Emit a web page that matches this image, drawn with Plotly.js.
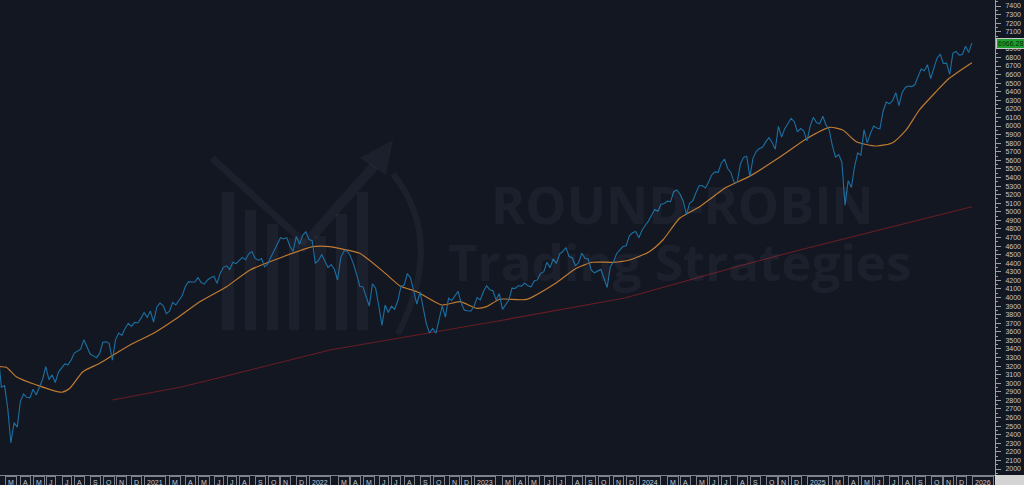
<!DOCTYPE html>
<html><head><meta charset="utf-8">
<script src="https://cdn.plot.ly/plotly-3.0.1.min.js"></script>
<style>html,body{margin:0;padding:0;background:#131722;overflow:hidden}#chart{width:1024px;height:485px}</style>
</head><body><div id="chart"></div>
<script>
// ---- data (weekly closes, first week starting 2020-02-10) ----
const firstWeek = '2020-02-10';
const closes = [
3380.16,3337.75,2954.22,2972.37,2711.02,2304.92,2541.47,2488.65,2789.82,2874.56,2836.74,2830.71,2929.80,2863.70,2955.45,3044.31,3193.93,3041.31,3097.74,3009.05,3130.01,3185.04,3224.73,3215.63,3271.12,3351.28,3372.85,3397.16,3508.01,3426.96,3340.97,3319.47,3298.46,3348.42,3477.13,3483.81,3465.39,3269.96,3509.44,3585.15,3557.54,3638.35,3699.12,3663.46,3709.41,3703.06,3756.07,
3824.68,3768.25,3841.47,3714.24,3886.83,3934.83,3906.71,3811.15,3841.94,3943.34,3913.10,3974.54,4019.87,4128.80,4185.47,4180.17,4181.17,4232.60,4173.85,4155.86,4204.11,4229.89,4247.44,4166.45,4280.70,4352.34,4369.55,4327.16,4411.79,4395.26,4436.52,4468.00,4441.67,4509.37,4535.43,4458.58,4432.99,4455.48,4357.04,4391.34,4471.37,4544.90,4605.38,4697.53,4682.85,4697.96,4594.62,4538.43,4712.02,4620.64,4725.79,4766.18,
4677.03,4662.85,4397.94,4431.85,4500.53,4418.64,4348.87,4384.65,4328.87,4204.31,4463.12,4543.06,4545.86,4488.28,4392.59,4271.78,4131.93,4123.34,4023.89,3901.36,4158.24,4108.54,3900.86,3674.84,3911.74,3825.33,3899.38,3863.16,3961.63,4130.29,4145.19,4280.15,4228.48,4057.66,3924.26,4067.36,3873.33,3693.23,3585.62,3639.66,3583.07,3752.75,3901.06,3770.55,3992.93,3965.34,4026.12,4071.70,3934.38,3852.36,3844.82,3839.50,
3895.08,3999.09,3972.61,4070.56,4136.48,4090.46,4079.09,3970.04,4045.64,3861.59,3916.64,3970.99,4109.31,4105.02,4137.64,4133.52,4169.48,4136.25,4124.08,4191.98,4205.45,4282.37,4298.86,4409.59,4348.33,4450.38,4398.95,4505.42,4536.34,4582.23,4478.03,4464.05,4369.71,4405.71,4515.77,4457.49,4450.32,4320.06,4288.05,4308.50,4327.78,4224.16,4117.37,4358.34,4415.24,4514.02,4559.34,4594.63,4604.37,4719.19,4754.63,4769.83,
4697.24,4783.83,4839.81,4890.97,4958.61,5026.61,5005.57,5088.80,5096.27,5123.69,5117.09,5234.18,5254.35,5204.34,5123.41,4967.23,5099.96,5127.79,5222.68,5303.27,5304.72,5277.51,5346.99,5431.60,5464.62,5460.48,5567.19,5615.35,5505.00,5459.10,5346.56,5344.16,5554.25,5634.61,5648.40,5408.42,5626.02,5702.55,5738.17,5751.07,5815.03,5864.67,5808.12,5728.80,5995.54,5870.62,5969.34,6032.38,6090.27,6051.09,5930.85,5970.84,5942.47,
5827.04,5996.66,6101.24,6040.53,6025.99,6114.63,6013.13,5954.50,5770.20,5638.94,5667.56,5580.94,5074.08,5363.36,5282.70,5525.21,5686.67,5659.91,5958.38,5802.82,5911.69,6000.36,5976.97,5967.84,6173.07,6279.35,6259.75,6296.79,6388.64,6238.01,6389.45,6449.80,6466.91,6460.26,6481.50,6584.29,6664.36,6643.70,6715.79,6552.51,6664.01,6791.69,6840.20,6728.80,6734.11,6602.99,6849.09,6870.40,6827.41,6834.50,6929.94,6858.47,
6966.28
];

// orange moving average
const maDates = ['2020-02-10','2020-02-21','2020-03-06','2020-03-28','2020-05-12','2020-07-06','2020-07-24','2020-08-22','2020-09-28','2020-10-28','2020-12-11','2021-01-25','2021-03-17','2021-05-07','2021-07-05','2021-08-26','2021-11-07','2022-01-12','2022-02-18','2022-03-20','2022-04-25','2022-06-16','2022-07-23','2022-08-29','2022-10-23','2022-12-02','2023-01-08','2023-01-30','2023-02-28','2023-04-28','2023-07-03','2023-08-16','2023-09-21','2023-11-04','2023-12-11','2024-01-24','2024-02-23','2024-03-31','2024-05-14','2024-07-12','2024-09-01','2024-11-14','2025-01-04','2025-02-25','2025-03-26','2025-04-25','2025-06-08','2025-07-14','2025-08-13','2025-09-11','2025-10-18','2025-11-16','2026-01-05'];
const maValues = [3195,3193,3186,3077,2980,2895,2941,3135,3233,3330,3466,3583,3758,3951,4126,4321,4476,4593,4593,4562,4516,4302,4135,4068,3913,3951,3874,3893,3980,3978,4173,4341,4411,4411,4438,4535,4671,4924,5059,5285,5413,5662,5849,5985,5954,5817,5767,5806,5954,6187,6401,6557,6739];

// dark red long moving average
const longMaDates = ['2020-10-26','2021-03-30','2021-08-26','2022-02-18','2023-02-28','2023-12-01','2024-09-01','2024-12-21','2026-01-05'];
const longMaValues = [2805,2960,3155,3388,3730,3994,4399,4554,5059];

// axis labels
const monthLetters = ['J','F','M','A','M','J','J','A','S','O','N','D'];
const hiddenMonths = [1];
const priceTicks = [2000,2100,2200,2300,2400,2500,2600,2700,2800,2900,3000,3100,3200,3300,3400,3500,3600,3700,3800,3900,4000,4100,4200,4300,4400,4500,4600,4700,4800,4900,5000,5100,5200,5300,5400,5500,5600,5700,5800,5900,6000,6100,6200,6300,6400,6500,6600,6700,6800,6900,7000,7100,7200,7300,7400];
const coveredTick = 7000;
const lastPriceText = '6966.28';
const watermarkTitle = 'ROUND-ROBIN';
const watermarkSub = 'Trading Strategies';

// ---- build ----
const t0 = Date.UTC(2020,1,10);
const weeks = closes.map((_, i) => new Date(t0 + i*7*864e5).toISOString().slice(0,10));

const W = 995, H = 475;
const px = x => x / W;
const py = y => 1 - y / H;

const annotations = [];
let prevKey = '';
weeks.forEach(d => {
  const y = +d.slice(0,4), m = +d.slice(5,7) - 1;
  const key = y + '-' + m;
  if (key === prevKey) return;
  prevKey = key;
  if (hiddenMonths.includes(m)) return;
  if (d < '2020-02-21') return;
  annotations.push({
    x: d, xref: 'x', y: 0, yref: 'paper', yanchor: 'top', xanchor: 'left', yshift: -1,
    text: m === 0 ? String(y) : monthLetters[m], showarrow: false,
    font: {family: 'Liberation Sans, Arial, sans-serif', size: 7, color: '#c6cad2'},
    bordercolor: '#7d828c', borderwidth: 1, borderpad: 2, bgcolor: '#131722'
  });
});

const wmColor = 'rgba(190,200,225,0.055)';
annotations.push({
  x: px(682), y: py(203), xref: 'paper', yref: 'paper', xanchor: 'center', yanchor: 'middle',
  text: '<b>' + watermarkTitle + '</b>', showarrow: false,
  font: {family: 'Open Sans, DejaVu Sans, sans-serif', size: 52, color: wmColor}
});
annotations.push({
  x: px(679), y: py(261), xref: 'paper', yref: 'paper', xanchor: 'center', yanchor: 'middle',
  text: '<b>' + watermarkSub + '</b>', showarrow: false,
  font: {family: 'Open Sans, DejaVu Sans, sans-serif', size: 51, color: wmColor}
});
annotations.push({
  x: 1 + 1.5 / W, xref: 'paper', y: closes[closes.length - 1], yref: 'y', xanchor: 'left', yanchor: 'middle',
  text: lastPriceText, showarrow: false,
  font: {family: 'Liberation Sans, Arial, sans-serif', size: 7, color: '#062b08'},
  bgcolor: '#1e9e2c', bordercolor: '#c8c8c8', borderwidth: 1, borderpad: 1
});

// watermark logo (decoration)
const shapes = [];
const bars = [[222,192,234],[245,210,256],[267,224,278],[289,238,299],[315,236,326],[336,214,347],[357,192,368]];
bars.forEach(b => shapes.push({type:'rect', xref:'paper', yref:'paper', layer:'below',
  x0: px(b[0]), x1: px(b[2]), y0: py(330), y1: py(b[1]), fillcolor: wmColor, line:{width:0}}));
shapes.push({type:'line', xref:'paper', yref:'paper', layer:'below', x0: px(212), y0: py(158), x1: px(306), y1: py(244), line:{color: wmColor, width: 7}});
shapes.push({type:'line', xref:'paper', yref:'paper', layer:'below', x0: px(300), y0: py(250), x1: px(374), y1: py(166), line:{color: wmColor, width: 10}});
shapes.push({type:'path', xref:'paper', yref:'paper', layer:'below',
  path: `M ${px(360)},${py(158)} L ${px(393)},${py(140)} L ${px(386)},${py(175)} Z`, fillcolor: wmColor, line:{width:0}});
shapes.push({type:'path', xref:'paper', yref:'paper', layer:'below',
  path: `M ${px(393)},${py(174)} Q ${px(446)},${py(240)} ${px(398)},${py(334)}`, line:{color: wmColor, width: 6}});
// bottom-right corner block
shapes.push({type:'rect', xref:'paper', yref:'paper', x0: 1, x1: 1024 / W, y0: -10 / H, y1: 0, fillcolor: '#d4d4d4', line:{width:0}});

const traces = [
  {x: longMaDates, y: longMaValues, type: 'scatter', mode: 'lines', line: {color: '#6a1c24', width: 1.1}, hoverinfo: 'skip'},
  {x: maDates, y: maValues, type: 'scatter', mode: 'lines', line: {color: '#c07a30', width: 1.2, shape: 'spline', smoothing: 0.6}, hoverinfo: 'skip'},
  {x: weeks, y: closes, type: 'scatter', mode: 'lines', line: {color: '#1c6fa2', width: 1.1}, hoverinfo: 'skip'}
];

const layout = {
  width: 1024, height: 485,
  margin: {l: 0, r: 29, t: 0, b: 10, pad: 0},
  paper_bgcolor: '#131722', plot_bgcolor: '#131722',
  showlegend: false,
  xaxis: {type: 'date', range: ['2020-02-21', '2026-02-25'], showgrid: false, zeroline: false,
          showticklabels: false, ticks: '', showline: true, linecolor: '#7d828c', linewidth: 1, fixedrange: true},
  yaxis: {side: 'right', range: [1930, 7470], tickmode: 'array', tickvals: priceTicks,
          ticktext: priceTicks.map(v => v === coveredTick ? '' : String(v)),
          showgrid: false, zeroline: false,
          ticks: 'outside', ticklen: 5, tickcolor: '#9aa0a8', tickwidth: 1,
          minor: {dtick: 50, tick0: 0, ticks: 'outside', ticklen: 2, tickcolor: '#9aa0a8'},
          showline: true, linecolor: '#9aa0a8', linewidth: 1, ticklabelstandoff: 3,
          tickfont: {family: 'Liberation Sans, Arial, sans-serif', size: 7, color: '#c3c7cf'}, fixedrange: true},
  annotations: annotations,
  shapes: shapes
};

Plotly.newPlot('chart', traces, layout, {staticPlot: true, displayModeBar: false});
</script></body></html>
